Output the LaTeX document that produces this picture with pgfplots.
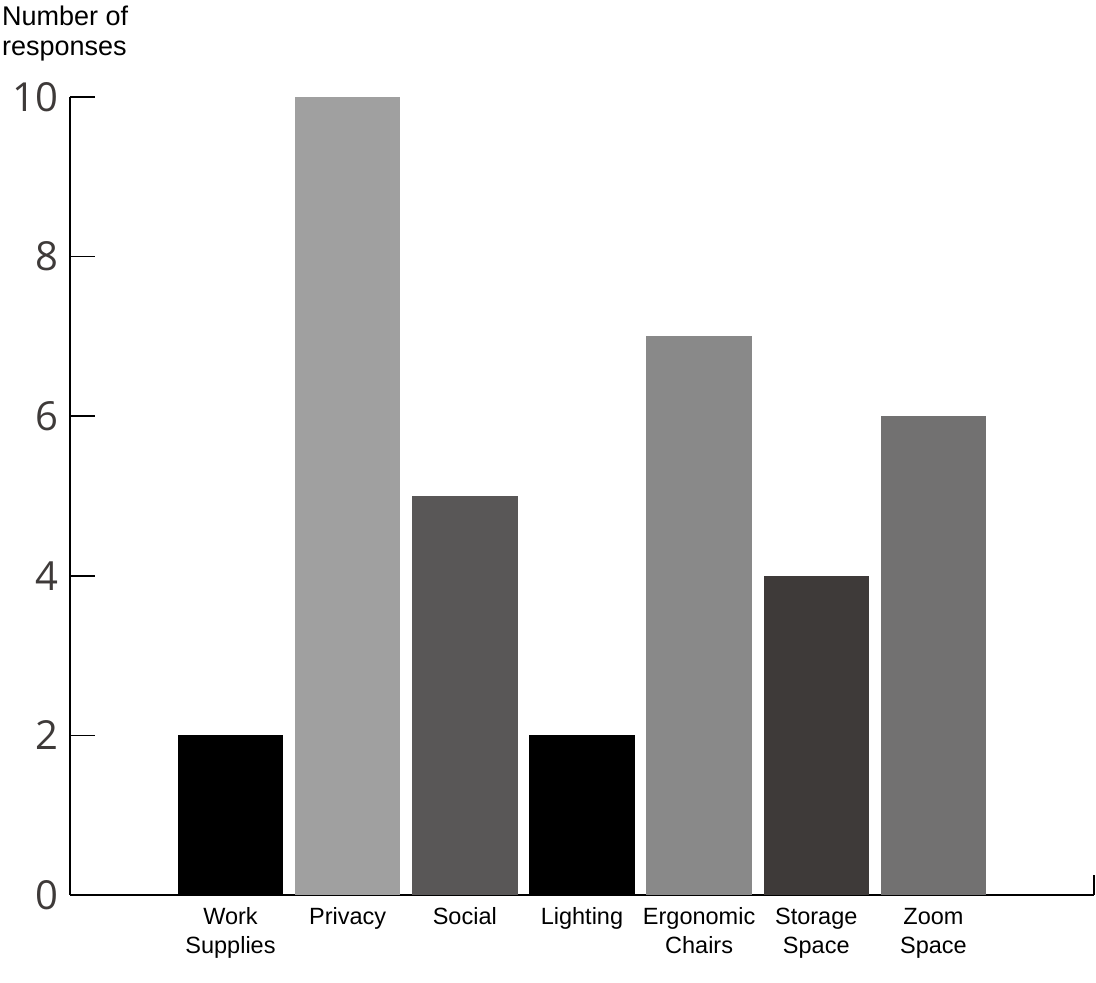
\documentclass[border=0pt]{standalone}
\usepackage{fontspec}
\setmainfont{Liberation Sans}
\newfontfamily\numfont{Open Sans}
\usepackage{pgfplots}
\pgfplotsset{compat=1.18}
\definecolor{cPriv}{HTML}{A0A0A0}
\definecolor{cSoc}{HTML}{595757}
\definecolor{cErg}{HTML}{898989}
\definecolor{cSto}{HTML}{3E3A39}
\definecolor{cZoom}{HTML}{727171}
\definecolor{numgray}{HTML}{3E3A39}
\begin{document}
\begin{tikzpicture}
\path[use as bounding box] (-70pt,-88pt) rectangle (1026pt,895pt);
\begin{axis}[
  name=ax,
  scale only axis,
  width=1024pt, height=798pt,
  ymin=0, ymax=10,
  xmin=-1.37, xmax=7.37,
  axis lines=left,
  axis line style={-, line width=1.6pt, color=black},
  ytick={0,2,4,6,8,10},
  xtick={0,1,2,3,4,5,6},
  xticklabels={\strut Work\\Supplies, \strut Privacy, \strut Social, \strut Lighting, \strut Ergonomic\\Chairs, \strut Storage\\Space, \strut Zoom\\Space},
  x tick label style={align=center, font=\fontsize{23.5}{29}\selectfont, text=black, yshift=19pt},
  major x tick style={draw=none},
  y tick style={line width=1.6pt, color=black},
  tick align=inside,
  major tick length=25pt,
  /pgf/number format/assume math mode=true,
  y tick label style={font=\fontsize{40}{46}\selectfont\numfont, text=numgray, xshift=-8pt},
  ybar,
  bar width=0.9,
  clip=false,
]
\addplot[fill=black, draw=none, bar shift=0pt] coordinates {(0,2)};
\addplot[fill=cPriv, draw=none, bar shift=0pt] coordinates {(1,10)};
\addplot[fill=cSoc, draw=none, bar shift=0pt] coordinates {(2,5)};
\addplot[fill=black, draw=none, bar shift=0pt] coordinates {(3,2)};
\addplot[fill=cErg, draw=none, bar shift=0pt] coordinates {(4,7)};
\addplot[fill=cSto, draw=none, bar shift=0pt] coordinates {(5,4)};
\addplot[fill=cZoom, draw=none, bar shift=0pt] coordinates {(6,6)};
\end{axis}
\draw[line width=1.6pt, black] (1024pt,0pt) -- (1024pt,20pt);
\node[anchor=north west, align=left, font=\fontsize{27}{29.5}\selectfont, inner sep=0pt] at (-68pt,889pt) {Number of\\responses};
\end{tikzpicture}
\end{document}
